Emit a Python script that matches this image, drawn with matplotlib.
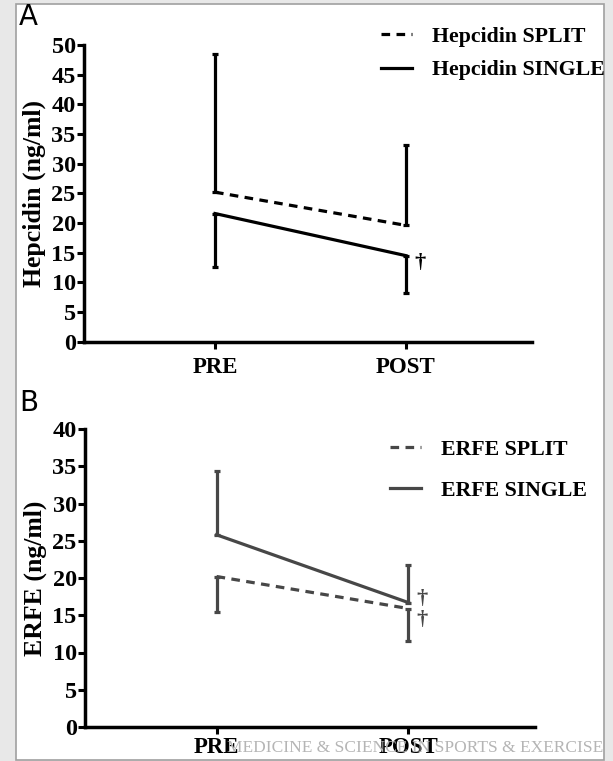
import matplotlib
matplotlib.use("Agg")
import matplotlib.pyplot as plt
from matplotlib.patches import Rectangle
import numpy as np

# data
timepoints = ["PRE", "POST"]

hep_split_mean = [25.2, 19.6]
hep_split_sd = [23.3, 13.6]     # drawn upward
hep_single_mean = [21.6, 14.5]
hep_single_sd = [9.0, 6.3]      # drawn downward

erfe_single_mean = [25.8, 16.7]
erfe_single_sd = [8.5, 5.0]     # drawn upward
erfe_split_mean = [20.2, 15.9]
erfe_split_sd = [4.8, 4.4]      # drawn downward

serif = "Liberation Serif"
ytick_size = 17.5
xtick_size = 16.5
ylabel_size = 18.5
legend_size = 15.7
dash = (2.7, 2.0)

fig = plt.figure(figsize=(6.13, 7.61), dpi=100)
fig.patch.set_facecolor("#e8e8e8")
fig.patches.append(Rectangle((16 / 613, 1 - 760 / 761), (604 - 16) / 613, (760 - 4) / 761,
                             transform=fig.transFigure, facecolor="white",
                             edgecolor="#a0a0a0", linewidth=1.2, zorder=-10))


def panel(ax, ymax, ystep, color, up_mean, up_sd, up_style, dn_mean, dn_sd, dn_style,
          labels, ylabel, xpad):
    x = np.arange(len(timepoints))
    up_err = [np.zeros(len(up_sd)), up_sd]
    dn_err = [dn_sd, np.zeros(len(dn_sd))]
    ax.errorbar(x, up_mean, yerr=up_err, fmt="none", ecolor=color, elinewidth=2.3,
                capsize=2.5, capthick=2.3)
    ax.errorbar(x, dn_mean, yerr=dn_err, fmt="none", ecolor=color, elinewidth=2.3,
                capsize=2.5, capthick=2.3)
    lines = {}
    for mean, style, lab in [(up_mean, up_style, labels[0]), (dn_mean, dn_style, labels[1])]:
        ln, = ax.plot(x, mean, color=color, linewidth=2.3, label=lab)
        if style == "dash":
            ln.set_dashes(dash)
        lines[lab] = ln
    ax.set_xlim(-0.686, 1.66)
    ax.set_ylim(0, ymax)
    ax.set_yticks(np.arange(0, ymax + 1, ystep))
    ax.set_xticks(x)
    ax.set_xticklabels(timepoints)
    for s in ["top", "right"]:
        ax.spines[s].set_visible(False)
    for s in ["left", "bottom"]:
        ax.spines[s].set_linewidth(2.5)
        ax.spines[s].set_color("black")
    ax.tick_params(width=2.2, length=5, direction="out")
    ax.tick_params(axis="y", pad=1)
    ax.tick_params(axis="x", pad=xpad)
    for t in ax.get_yticklabels():
        t.set_fontfamily(serif)
        t.set_fontweight("bold")
        t.set_fontsize(ytick_size)
    for t in ax.get_xticklabels():
        t.set_fontfamily(serif)
        t.set_fontweight("bold")
        t.set_fontsize(xtick_size)
    ax.set_ylabel(ylabel, fontfamily=serif, fontweight="bold", fontsize=ylabel_size, labelpad=4)
    ax.patch.set_alpha(0)
    return lines


def dagger(ax, x, y, color):
    ax.text(x, y, "\u2020", color=color, fontsize=16, fontfamily=serif, fontweight="bold",
            ha="center", va="center")


# panel A
axA = fig.add_axes([84 / 613, 1 - 341.7 / 761, (532 - 84) / 613, (341.7 - 45) / 761])
linesA = panel(axA, 50, 5, "black", hep_split_mean, hep_split_sd, "dash",
               hep_single_mean, hep_single_sd, "solid",
               ["Hepcidin SPLIT", "Hepcidin SINGLE"], "Hepcidin (ng/ml)", 6)
dagger(axA, 1.075, 13.3, "black")
legA = axA.legend(handles=[linesA["Hepcidin SPLIT"], linesA["Hepcidin SINGLE"]],
                  loc="upper left", bbox_to_anchor=(361 / 613, 1 - 7 / 761),
                  bbox_transform=fig.transFigure, frameon=False, handlelength=1.45,
                  handletextpad=0.9, labelspacing=0.6,
                  prop={"family": serif, "weight": "bold", "size": legend_size})

# panel B
gray = "#474747"
axB = fig.add_axes([85 / 613, 1 - 727 / 761, (535 - 85) / 613, (727 - 429) / 761])
linesB = panel(axB, 40, 5, gray, erfe_single_mean, erfe_single_sd, "solid",
               erfe_split_mean, erfe_split_sd, "dash",
               ["ERFE SINGLE", "ERFE SPLIT"], "ERFE (ng/ml)", 2)
dagger(axB, 1.07, 17.2, gray)
dagger(axB, 1.07, 14.4, gray)
legB = axB.legend(handles=[linesB["ERFE SPLIT"], linesB["ERFE SINGLE"]],
                  loc="upper left", bbox_to_anchor=(370 / 613, 1 - 420 / 761),
                  bbox_transform=fig.transFigure, frameon=False, handlelength=1.45,
                  handletextpad=0.9, labelspacing=0.95,
                  prop={"family": serif, "weight": "bold", "size": legend_size})
for t in legB.get_texts():
    t.set_color("black")

# panel letters
fig.text(19 / 613, 1 - 17 / 761, "A", fontsize=20, fontfamily="DejaVu Sans", va="center")
fig.text(19 / 613, 1 - 403 / 761, "B", fontsize=20, fontfamily="DejaVu Sans", va="center")

# journal watermark
fig.text(603 / 613, 1 - 748 / 761, "MEDICINE & SCIENCE IN SPORTS & EXERCISE",
         fontsize=12.5, fontfamily=serif, color="#b5b5b5", ha="right", va="center", zorder=5)

fig.savefig("out.png", dpi=100, facecolor=fig.get_facecolor())
